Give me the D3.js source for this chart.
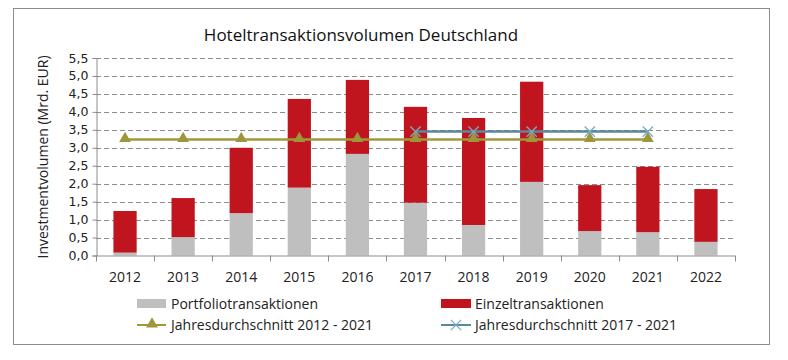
<!DOCTYPE html>
<html><head><meta charset="utf-8">
<script src="https://cdn.jsdelivr.net/npm/d3@7"></script>
<style>body{margin:0;background:#fff}svg{display:block}</style>
</head><body>
<svg id="c" width="788" height="360"></svg>
<script>
const years = ["2012","2013","2014","2015","2016","2017","2018","2019","2020","2021","2022"];
const portfolio = [0.08,0.51,1.18,1.89,2.83,1.47,0.85,2.05,0.68,0.65,0.38];
const einzel = [1.16,1.09,1.82,2.47,2.06,2.67,2.98,2.79,1.28,1.82,1.47];
const avgYears1 = ["2012","2013","2014","2015","2016","2017","2018","2019","2020","2021"];
const avg1 = [3.23,3.23,3.23,3.23,3.23,3.23,3.23,3.23,3.23,3.23];
const avgYears2 = ["2017","2018","2019","2020","2021"];
const avg2 = [3.45,3.45,3.45,3.45,3.45];
const yTicks = [0,0.5,1,1.5,2,2.5,3,3.5,4,4.5,5,5.5];

const svg = d3.select("#c");
const font = "'Open Sans', Lato, sans-serif";
svg.append("rect").attr("x",13.5).attr("y",8.5).attr("width",756).attr("height",336)
  .attr("fill","#fff").attr("stroke","#8c8c8c").attr("stroke-width",1);

const x0 = 96, x1 = 735, yTop = 58, yBot = 255.5;
const x = d3.scaleBand().domain(years).range([x0,x1]).paddingInner(0.6).paddingOuter(0.3);
const xc = d3.scaleBand().domain(years).range([x0,x1]);
const y = d3.scaleLinear().domain([0,5.5]).range([yBot,yTop]);

// grid
svg.append("g").selectAll("line").data(yTicks.filter(d=>d>0)).join("line")
  .attr("x1",x0).attr("x2",x1).attr("y1",d=>Math.round(y(d))+0.5).attr("y2",d=>Math.round(y(d))+0.5)
  .attr("stroke","#8c8c8c").attr("stroke-dasharray","5,3");

// bars
const g = svg.append("g");
g.selectAll(".p").data(years).join("rect")
  .attr("x",d=>x(d)).attr("width",x.bandwidth())
  .attr("y",(d,i)=>y(portfolio[i])).attr("height",(d,i)=>yBot-y(portfolio[i]))
  .attr("fill","#bfbfbf");
g.selectAll(".e").data(years).join("rect")
  .attr("x",d=>x(d)).attr("width",x.bandwidth())
  .attr("y",(d,i)=>y(portfolio[i]+einzel[i])).attr("height",(d,i)=>y(portfolio[i])-y(portfolio[i]+einzel[i]))
  .attr("fill","#c0151e");

// axes
const ya = d3.axisLeft(y).tickValues(yTicks).tickSize(4).tickFormat(d=>d3.format(".1f")(d).replace(".",","));
const yg = svg.append("g").attr("transform",`translate(${x0+0.5},0)`).call(ya);
yg.select(".domain").attr("stroke","#8c8c8c");
yg.selectAll(".tick line").attr("stroke","#8c8c8c");
yg.selectAll(".tick text").attr("font-family","'DejaVu Sans', Verdana, sans-serif").attr("font-size",12.5).attr("fill","#222").attr("x",-8);

const xg = svg.append("g").attr("transform",`translate(0,${yBot})`);
xg.append("line").attr("x1",x0).attr("x2",x1).attr("y1",0.5).attr("y2",0.5).attr("stroke","#8c8c8c");
const bounds = years.map(d=>xc(d)).concat([x1]);
xg.selectAll(".tk").data(bounds).join("line")
  .attr("x1",d=>Math.round(d)+0.5).attr("x2",d=>Math.round(d)+0.5).attr("y1",0).attr("y2",6).attr("stroke","#8c8c8c");
xg.selectAll("text").data(years).join("text")
  .attr("x",d=>xc(d)+xc.bandwidth()/2).attr("y",26).attr("text-anchor","middle")
  .attr("font-family",font).attr("font-size",14).attr("fill","#222").text(d=>d);

// lines
const line = d3.line().x(d=>xc(d[0])+xc.bandwidth()/2).y(d=>y(d[1]));
const d1 = avgYears1.map((d,i)=>[d,avg1[i]]);
const d2 = avgYears2.map((d,i)=>[d,avg2[i]]);
svg.append("path").attr("d",line(d2)).attr("fill","none").attr("stroke","#5a8a99").attr("stroke-width",2.5);
svg.append("path").attr("d",line(d1)).attr("fill","none").attr("stroke","#9e9a3c").attr("stroke-width",2.5);
const tri = d3.symbol().type(d3.symbolTriangle).size(60);
svg.selectAll(".t").data(d1).join("path")
  .attr("transform",d=>`translate(${xc(d[0])+xc.bandwidth()/2},${y(d[1])-1})`).attr("d",tri).attr("fill","#9e963a");
const cross = d3.symbol().type(d3.symbolX).size(70);
svg.selectAll(".xm").data(d2).join("path")
  .attr("transform",d=>`translate(${xc(d[0])+xc.bandwidth()/2},${y(d[1])})`).attr("d",cross)
  .attr("fill","none").attr("stroke","#7aaac4").attr("stroke-width",1.3);

// title
svg.append("text").attr("x",361).attr("y",41).attr("text-anchor","middle")
  .attr("font-family",font).attr("font-size",17).attr("fill","#111").text("Hoteltransaktionsvolumen Deutschland");
// y title
svg.append("text").attr("transform",`translate(48,157) rotate(-90)`).attr("text-anchor","middle")
  .attr("font-family",font).attr("font-size",14).attr("fill","#222").text("Investmentvolumen (Mrd. EUR)");

// legend
const lg = svg.append("g").attr("font-family",font).attr("font-size",14).attr("fill","#222");
lg.append("rect").attr("x",137).attr("y",299).attr("width",29).attr("height",9).attr("fill","#bfbfbf");
lg.append("text").attr("x",171).attr("y",309).text("Portfoliotransaktionen");
lg.append("rect").attr("x",441).attr("y",299).attr("width",30).attr("height",9).attr("fill","#c0151e");
lg.append("text").attr("x",475).attr("y",309).text("Einzeltransaktionen");
lg.append("line").attr("x1",137).attr("x2",166).attr("y1",325).attr("y2",325).attr("stroke","#9e9a3c").attr("stroke-width",2);
lg.append("path").attr("transform","translate(152,324)").attr("d",tri).attr("fill","#9e963a");
lg.append("text").attr("x",171).attr("y",330).text("Jahresdurchschnitt 2012 - 2021");
lg.append("line").attr("x1",441).attr("x2",471).attr("y1",325).attr("y2",325).attr("stroke","#5a8a99").attr("stroke-width",2);
lg.append("path").attr("transform","translate(456,325)").attr("d",cross).attr("fill","none").attr("stroke","#7aaac4").attr("stroke-width",1.3);
lg.append("text").attr("x",475).attr("y",330).text("Jahresdurchschnitt 2017 - 2021");
</script>
</body></html>
